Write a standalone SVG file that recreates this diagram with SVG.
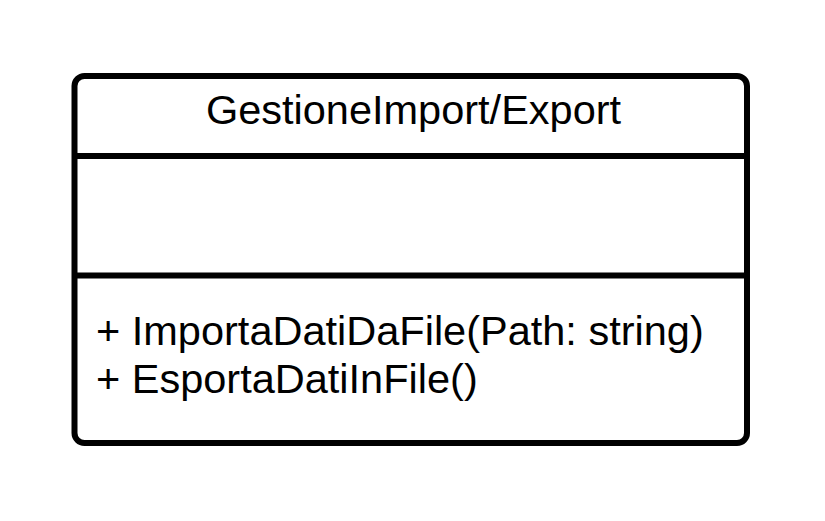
<svg xmlns="http://www.w3.org/2000/svg" width="825" height="521" viewBox="0 0 825 521">
<style>
.box{fill:#fff;stroke:#000;stroke-width:6}
.div{stroke:#000;stroke-width:6;fill:none}
.t{font-family:"Liberation Sans",Arial,sans-serif;font-size:41.5px;fill:#000}
</style>
<rect x="0" y="0" width="825" height="521" fill="#fff"/>
<g id="GestioneImportExport">
<rect class="box" x="74.5" y="76" width="672.5" height="367" rx="10" ry="10"/>
<line class="div" x1="74.5" y1="156" x2="747" y2="156"/>
<line class="div" x1="74.5" y1="275.5" x2="747" y2="275.5"/>
<text class="t" x="413.5" y="124" text-anchor="middle">GestioneImport/Export</text>
<text class="t" x="96" y="345">+ ImportaDatiDaFile(Path: string)</text>
<text class="t" x="96" y="393">+ EsportaDatiInFile()</text>
</g>
<g id="connectors"/>
</svg>
